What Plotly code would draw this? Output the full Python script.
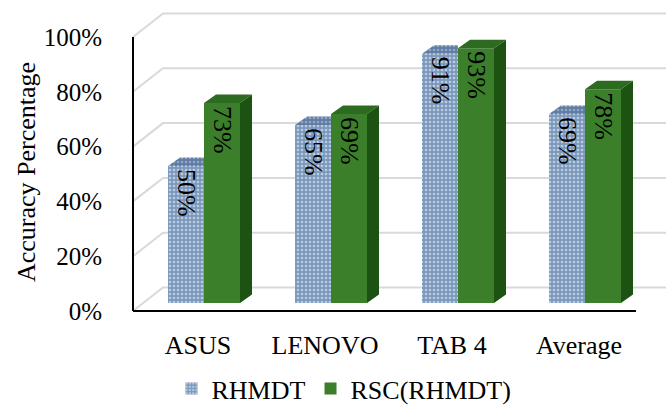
import plotly.graph_objects as go

# ---- data -------------------------------------------------------------
categories = ["ASUS", "LENOVO", "TAB 4", "Average"]
rhmdt = [50, 65, 91, 69]
rsc_rhmdt = [73, 69, 93, 78]
y_ticks = [0, 20, 40, 60, 80, 100]
series_names = ["RHMDT", "RSC(RHMDT)"]

# ---- geometry (pixel scale of the pseudo-3D frame) --------------------
W, H = 666, 412
L_MARGIN, B_MARGIN = 128, 96
PX_PER_CAT = 127.0      # horizontal pixels per category
PX_PER_PCT = 2.74       # vertical pixels per percent
FIRST_CAT_PX = 198.0    # x pixel of the first category on the front plane
ZERO_PX = 311.0         # y pixel of 0 % on the front plane
PLOT_BOTTOM_PX = H - B_MARGIN


def ux(px):
    return (px - FIRST_CAT_PX) / PX_PER_CAT


def dx(px):
    return px / PX_PER_CAT


def dy(px):
    return px / PX_PER_PCT


x_range = [ux(L_MARGIN), ux(W)]
y_range = [(ZERO_PX - PLOT_BOTTOM_PX) / PX_PER_PCT, ZERO_PX / PX_PER_PCT]

BAR_W = dx(36)
PAIR_SHIFT = dx(6)
BAR_BASE = dy(8)              # bars sit a little behind the front plane
DEPTH_X, DEPTH_Y = dx(12), dy(8.5)   # bar depth
WALL_X, WALL_Y = dx(30), dy(23.5)    # distance to the back wall
AXIS_LEFT, AXIS_RIGHT = ux(133), ux(636)

BLUE_BG = "#7a97bc"
GREEN = "#3b7f2b"
GREEN_TOP = "#2d6b20"
GREEN_SIDE = "#1c5313"
FONT = "Liberation Serif"

idx = list(range(len(categories)))
x_blue = [i + PAIR_SHIFT - BAR_W / 2 for i in idx]
x_green = [i + PAIR_SHIFT + BAR_W / 2 for i in idx]

fig = go.Figure()

# front faces of the bars
fig.add_trace(go.Bar(
    x=x_blue, y=rhmdt, base=BAR_BASE, width=BAR_W, name=series_names[0],
    marker=dict(color=BLUE_BG, line=dict(width=0),
                pattern=dict(shape=".", fgcolor="white", bgcolor=BLUE_BG,
                             size=4, solidity=0.35)),
    text=[f"{v}%" for v in rhmdt], textposition="inside",
    insidetextanchor="end", textangle=90, constraintext="none",
    insidetextfont=dict(family=FONT, size=26, color="black"),
))
fig.add_trace(go.Bar(
    x=x_green, y=rsc_rhmdt, base=BAR_BASE, width=BAR_W, name=series_names[1],
    marker=dict(color=GREEN, line=dict(width=0)),
    text=[f"{v}%" for v in rsc_rhmdt], textposition="inside",
    insidetextanchor="end", textangle=90, constraintext="none",
    insidetextfont=dict(family=FONT, size=26, color="black"),
))


def faces(xc, vals, kind, clip_right=False):
    xs, ys = [], []
    for c, v in zip(xc, vals):
        xl, xr = c - BAR_W / 2, c + BAR_W / 2
        top = BAR_BASE + v
        if kind == "top":
            if clip_right:
                px = [xl, xr, xr, xl + DEPTH_X, xl]
                py = [top, top, top + DEPTH_Y, top + DEPTH_Y, top]
            else:
                px = [xl, xr, xr + DEPTH_X, xl + DEPTH_X, xl]
                py = [top, top, top + DEPTH_Y, top + DEPTH_Y, top]
        else:  # right side
            px = [xr, xr, xr + DEPTH_X, xr + DEPTH_X, xr]
            py = [BAR_BASE, top, top + DEPTH_Y, BAR_BASE + DEPTH_Y, BAR_BASE]
        xs += px + [None]
        ys += py + [None]
    return xs, ys


# top of the patterned bars (the part not hidden by the green bars)
bx, by = faces(x_blue, rhmdt, "top", clip_right=True)
fig.add_trace(go.Scatter(
    x=bx, y=by, mode="lines", fill="toself", line=dict(width=0),
    fillcolor="#5d7ba3",
    fillpattern=dict(shape=".", fgcolor="#c9d4e3", bgcolor="#5d7ba3",
                     size=4, solidity=0.35),
    showlegend=False, hoverinfo="skip",
))
# top and side of the green bars
gx, gy = faces(x_green, rsc_rhmdt, "top")
fig.add_trace(go.Scatter(
    x=gx, y=gy, mode="lines", fill="toself", line=dict(width=0),
    fillcolor=GREEN_TOP, showlegend=False, hoverinfo="skip",
))
sx, sy = faces(x_green, rsc_rhmdt, "side")
fig.add_trace(go.Scatter(
    x=sx, y=sy, mode="lines", fill="toself", line=dict(width=0),
    fillcolor=GREEN_SIDE, showlegend=False, hoverinfo="skip",
))

# back-wall gridlines with their diagonal on the side wall
shapes = []
for t in y_ticks:
    shapes.append(dict(
        type="path", xref="x", yref="y", layer="below",
        path=(f"M {AXIS_LEFT},{t} L {AXIS_LEFT + WALL_X},{t + WALL_Y} "
              f"L {x_range[1] + 1},{t + WALL_Y}"),
        line=dict(color="#d9d9d9", width=2),
    ))
# front axis lines
shapes.append(dict(type="line", xref="x", yref="y", layer="above",
                   x0=AXIS_LEFT, x1=AXIS_LEFT, y0=y_ticks[0], y1=y_ticks[-1],
                   line=dict(color="black", width=2)))
shapes.append(dict(type="line", xref="x", yref="y", layer="above",
                   x0=AXIS_LEFT, x1=AXIS_RIGHT, y0=0, y1=0,
                   line=dict(color="black", width=2)))

fig.update_layout(
    width=W, height=H,
    margin=dict(l=L_MARGIN, r=0, t=0, b=B_MARGIN, autoexpand=False),
    paper_bgcolor="white", plot_bgcolor="white",
    font=dict(family=FONT, size=26, color="black"),
    barmode="overlay", hovermode=False,
    shapes=shapes,
    xaxis=dict(range=x_range, tickvals=idx, ticktext=categories,
               showgrid=False, zeroline=False, showline=False,
               ticks="outside", ticklen=6, tickcolor="rgba(0,0,0,0)",
               tickfont=dict(family=FONT, size=26, color="black")),
    yaxis=dict(range=y_range, tickvals=y_ticks,
               ticktext=[f"{t}%" for t in y_ticks],
               showgrid=False, zeroline=False, showline=False,
               ticks="outside", ticklen=20, tickcolor="rgba(0,0,0,0)",
               tickfont=dict(family=FONT, size=25, color="black")),
    legend=dict(orientation="h", x=(344 - L_MARGIN) / (W - L_MARGIN),
                xanchor="center", yref="container", y=-0.018,
                yanchor="bottom", font=dict(family=FONT, size=26),
                itemwidth=30, bgcolor="rgba(0,0,0,0)"),
    annotations=[dict(
        text="Accuracy Percentage", textangle=-90, showarrow=False,
        xref="paper", yref="paper",
        x=(26 - L_MARGIN) / (W - L_MARGIN), xanchor="center",
        y=(PLOT_BOTTOM_PX - 172) / PLOT_BOTTOM_PX, yanchor="middle",
        font=dict(family=FONT, size=26, color="black"),
    )],
)

fig.write_html("out.html")
